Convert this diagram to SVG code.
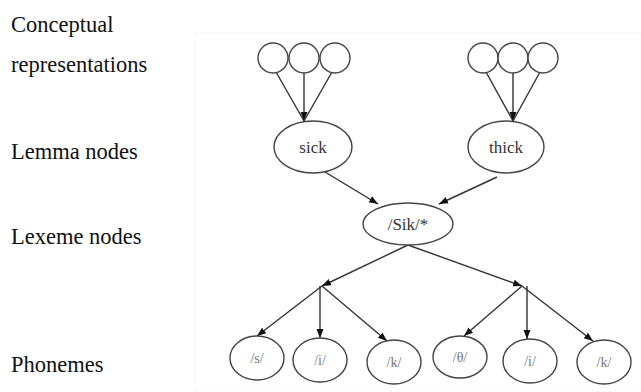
<svg xmlns="http://www.w3.org/2000/svg" width="641" height="392" viewBox="0 0 641 392">
<style>
.lbl{font-family:'Liberation Serif','Times New Roman','DejaVu Serif',serif;font-size:22.5px;fill:#111}
.node{fill:#fff;stroke:#444;stroke-width:1.4}
.nt{font-family:'Liberation Serif','Times New Roman','DejaVu Serif',serif;font-size:17px;fill:#333;text-anchor:middle}
.pt{font-family:'Liberation Serif','Times New Roman','DejaVu Serif',serif;font-size:14px;fill:#777;text-anchor:middle}
.edge{stroke:#333;stroke-width:1.4;fill:none}
</style>
<defs>
<marker id="ah" markerUnits="userSpaceOnUse" markerWidth="10" markerHeight="10" viewBox="0 0 10 10" refX="9" refY="5" orient="auto">
<path d="M0,1.5 L9,5 L0,8.5 Z" fill="#111"/>
</marker>
</defs>
<rect x="195" y="33" width="446" height="359" fill="#fff" stroke="#f6f6f6" stroke-width="1"/>
<g id="labels">
<text class="lbl" x="11" y="32">Conceptual</text>
<text class="lbl" x="11" y="72">representations</text>
<text class="lbl" x="11" y="159">Lemma nodes</text>
<text class="lbl" x="11" y="244">Lexeme nodes</text>
<text class="lbl" x="11" y="372">Phonemes</text>
</g>
<g id="connectors">
<line class="edge" x1="276" y1="72" x2="304" y2="121"/>
<line class="edge" x1="304" y1="73" x2="304" y2="121" marker-end="url(#ah)"/>
<line class="edge" x1="332" y1="72" x2="304" y2="121"/>
<line class="edge" x1="486" y1="72" x2="513" y2="121"/>
<line class="edge" x1="513" y1="73" x2="513" y2="121" marker-end="url(#ah)"/>
<line class="edge" x1="540" y1="72" x2="513" y2="121"/>
<line class="edge" x1="325" y1="172" x2="378" y2="204" marker-end="url(#ah)"/>
<line class="edge" x1="497" y1="177" x2="439" y2="204" marker-end="url(#ah)"/>
<line class="edge" x1="408" y1="245" x2="322" y2="286" marker-end="url(#ah)"/>
<line class="edge" x1="408" y1="245" x2="522" y2="286" marker-end="url(#ah)"/>
<line class="edge" x1="322" y1="286" x2="257" y2="336" marker-end="url(#ah)"/>
<line class="edge" x1="320" y1="286" x2="320" y2="338" marker-end="url(#ah)"/>
<line class="edge" x1="322" y1="286" x2="387" y2="341" marker-end="url(#ah)"/>
<line class="edge" x1="522" y1="286" x2="464" y2="336" marker-end="url(#ah)"/>
<line class="edge" x1="527" y1="286" x2="527" y2="339" marker-end="url(#ah)"/>
<line class="edge" x1="522" y1="286" x2="593" y2="341" marker-end="url(#ah)"/>
</g>
<g id="concept-sick">
<circle class="node" cx="273" cy="58" r="15"/>
<circle class="node" cx="304" cy="58" r="15"/>
<circle class="node" cx="335" cy="58" r="15"/>
</g>
<g id="concept-thick">
<circle class="node" cx="483" cy="58" r="15"/>
<circle class="node" cx="513" cy="58" r="15"/>
<circle class="node" cx="543" cy="58" r="15"/>
</g>
<g id="lemma-sick">
<ellipse class="node" cx="313" cy="147" rx="39" ry="26"/>
<text class="nt" x="313" y="153">sick</text>
</g>
<g id="lemma-thick">
<ellipse class="node" cx="506" cy="147" rx="38" ry="26"/>
<text class="nt" x="506" y="153">thick</text>
</g>
<g id="lexeme">
<ellipse class="node" cx="408" cy="224" rx="45" ry="21"/>
<text class="nt" x="408" y="230">/Sik/*</text>
</g>
<g id="ph-s">
<ellipse class="node" cx="257" cy="358" rx="27" ry="22"/>
<text class="pt" x="257" y="363">/s/</text>
</g>
<g id="ph-i1">
<ellipse class="node" cx="320" cy="360" rx="27" ry="22"/>
<text class="pt" x="320" y="365">/i/</text>
</g>
<g id="ph-k1">
<ellipse class="node" cx="394" cy="362" rx="27" ry="22"/>
<text class="pt" x="394" y="367">/k/</text>
</g>
<g id="ph-th">
<ellipse class="node" cx="460" cy="357" rx="27" ry="21"/>
<text class="pt" x="460" y="362">/θ/</text>
</g>
<g id="ph-i2">
<ellipse class="node" cx="530" cy="361" rx="27" ry="22"/>
<text class="pt" x="530" y="366">/i/</text>
</g>
<g id="ph-k2">
<ellipse class="node" cx="604" cy="362" rx="27" ry="22"/>
<text class="pt" x="604" y="367">/k/</text>
</g>
</svg>
